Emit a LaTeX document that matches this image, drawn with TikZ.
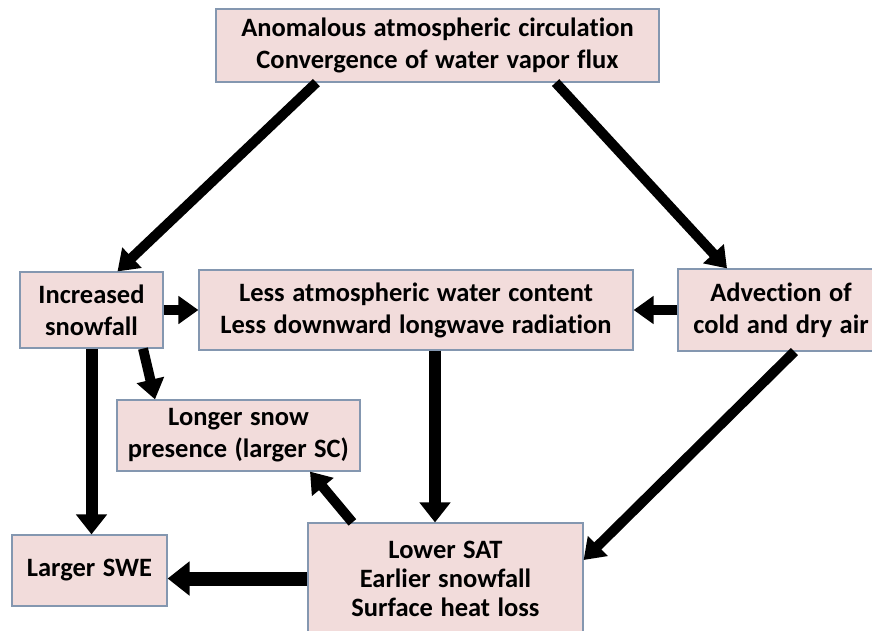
\documentclass[tikz,border=0pt]{standalone}
\usepackage{fontspec}
\setmainfont{Carlito}[Ligatures={NoCommon}, WordSpace=1.25]
\usetikzlibrary{arrows.meta}
\definecolor{boxfill}{HTML}{F2DCDB}
\definecolor{boxline}{HTML}{8497B0}
\tikzset{
  box/.style={draw=boxline, fill=boxfill, line width=1.2pt, inner sep=0pt,
    align=center, font=\fontsize{26.5}{32}\selectfont\bfseries},
  arr/.style={line width=10pt, -{Triangle[length=20pt,width=27pt]}},
  varr/.style={line width=12pt, -{Triangle[length=20pt,width=30pt]}},
  harr/.style={line width=14pt, -{Triangle[length=22pt,width=33pt]}},
}
\begin{document}
\begin{tikzpicture}[x=1pt,y=-1pt]
\clip (0,0) rectangle (872,630);
\fill[white] (0,0) rectangle (872,630);
\node[box, minimum width=443pt, minimum height=73pt] (top) at (437.5,45.5)
  {Anomalous atmospheric circulation\\Convergence of water vapor flux};
\node[box, minimum width=143pt, minimum height=76pt] (inc) at (91.5,310)
  {Increased\\snowfall};
\node[box, minimum width=434pt, minimum height=80pt] (less) at (416,310)
  {Less atmospheric water content\\Less downward longwave radiation};
\node[box, minimum width=206pt, minimum height=82pt] (adv) at (781,310)
  {Advection of\\cold and dry air};
\node[box, minimum width=243pt, minimum height=71pt] (snow) at (238.5,435.5)
  {Longer snow\\presence (larger SC)};
\node[box, minimum width=155pt, minimum height=71pt] (swe) at (89.5,570.5)
  {Larger SWE};
\node[box, minimum width=275pt, minimum height=111pt, font=\fontsize{26.5}{29}\selectfont\bfseries] (sat) at (445.5,578.5)
  {Lower SAT\\Earlier snowfall\\Surface heat loss};

\draw[arr] ([xshift=101pt]top.south west) -- ([xshift=26pt]inc.north);
\draw[arr] ([xshift=-104pt]top.south east) -- ([xshift=-54pt]adv.north);
\draw[arr] (inc.east) -- (less.west);
\draw[arr] (adv.west) -- (less.east);
\draw[arr] ([xshift=51.5pt]inc.south) -- ([xshift=-83.5pt]snow.north);
\draw[varr] (inc.south) -- (inc.south |- swe.north);
\draw[varr] ([xshift=19pt]less.south) -- ([xshift=19pt]less.south |- sat.north);
\draw[arr] ([xshift=45pt]sat.north west) -- ([xshift=71.5pt]snow.south);
\draw[arr] ([xshift=117pt]adv.south west) -- ([yshift=18.5pt]sat.east);
\draw[harr] (sat.west) -- (sat.west -| swe.east);
\end{tikzpicture}
\end{document}
